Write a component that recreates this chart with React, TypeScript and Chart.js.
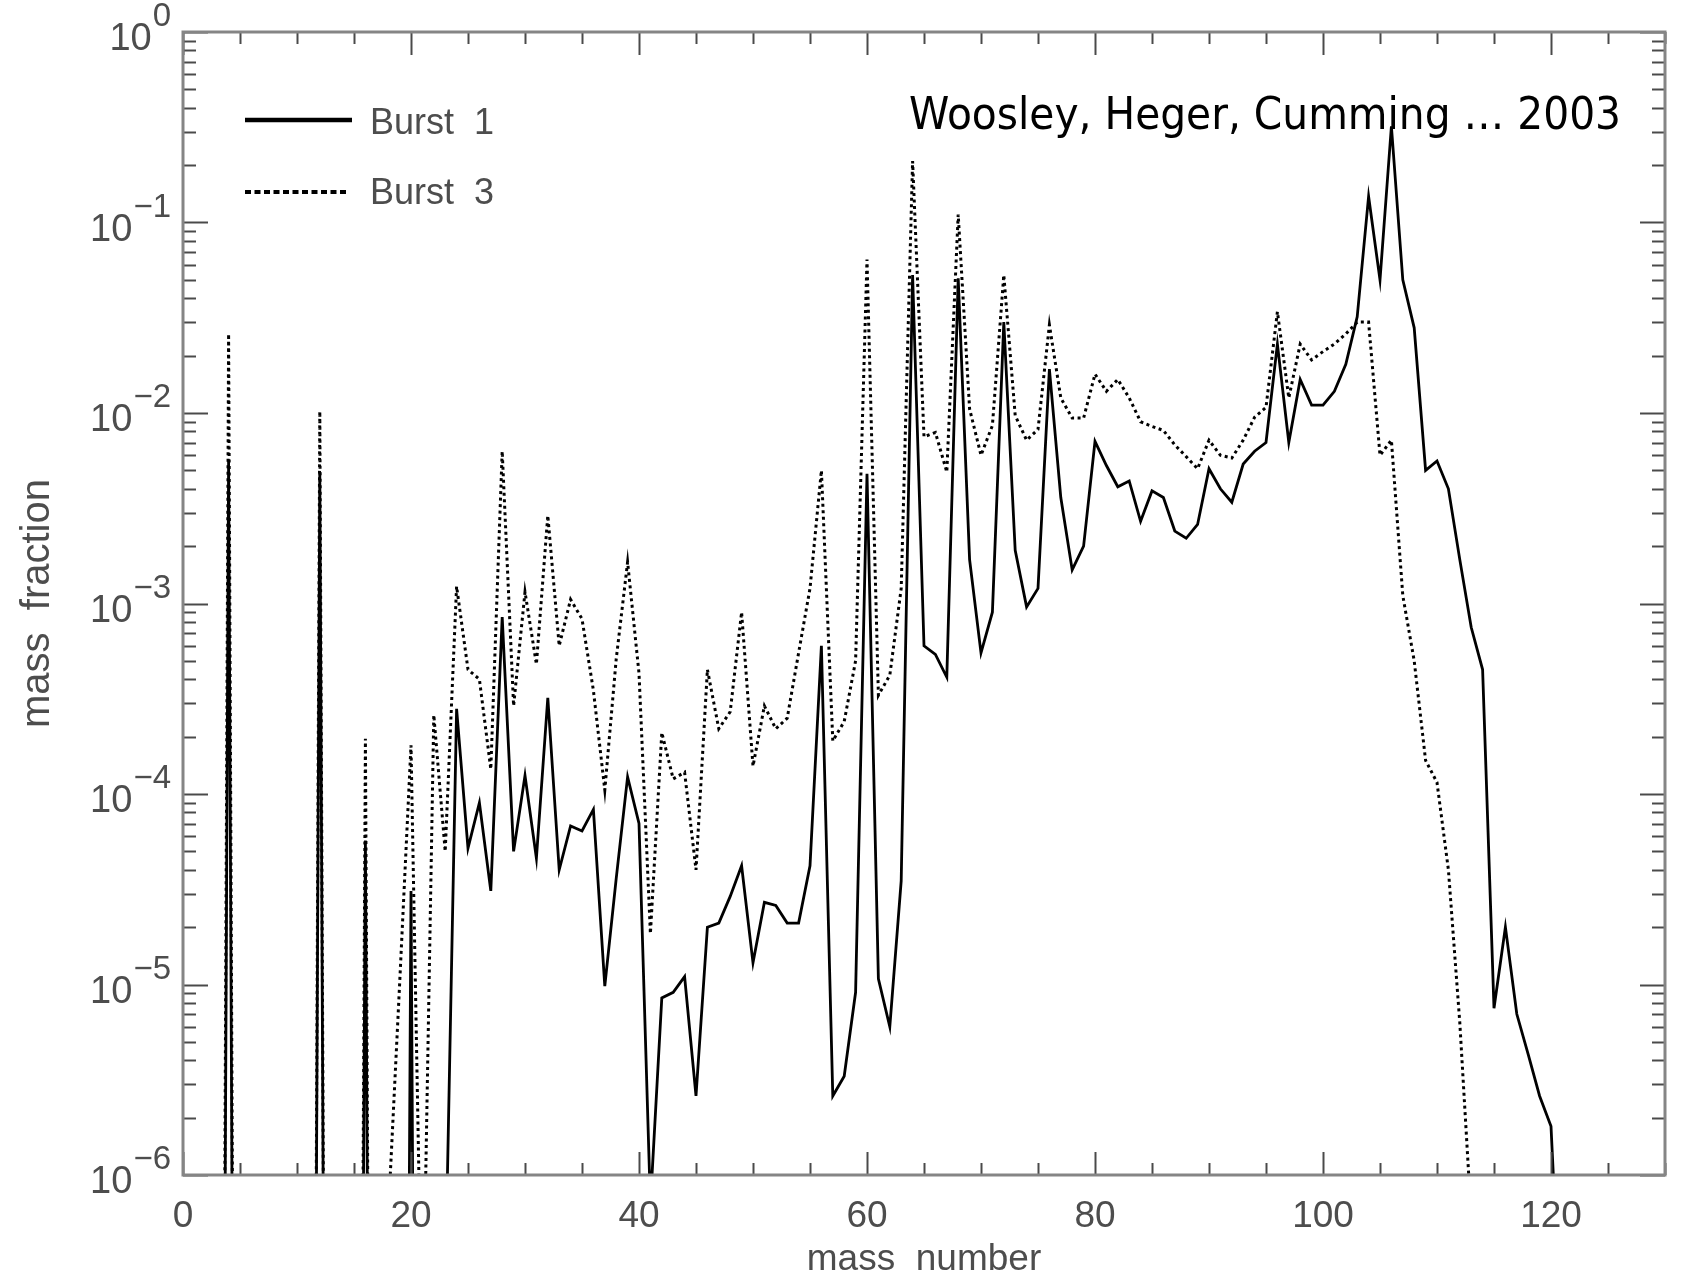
import { useEffect, useRef } from "react";
import { Chart, registerables } from "chart.js";

Chart.register(...registerables);

const W = 1681;
const H = 1277;

// value used for abundances below the plotted range (line leaves the frame)
const BELOW = 1e-15;

const massNumberFirst = 1;

const burst1 = [
  BELOW, BELOW, BELOW, 5.7e-3, BELOW, BELOW, BELOW, BELOW, BELOW, BELOW,
  BELOW, 4.9e-3, BELOW, BELOW, BELOW, 5.7e-5, BELOW, BELOW, BELOW, 3.1e-5,
  BELOW, BELOW, 2.5e-7, 2.8e-4, 5.2e-5, 9e-5, 3.1e-5, 8.5e-4, 5e-5, 1.25e-4,
  4.6e-5, 3.2e-4, 4e-5, 6.8e-5, 6.4e-5, 8.3e-5, 9.8e-6, 3.6e-5, 1.23e-4, 7e-5,
  7e-7, 8.5e-6, 9.1e-6, 1.1e-5, 2.6e-6, 2e-5, 2.1e-5, 2.9e-5, 4.2e-5, 1.3e-5,
  2.7e-5, 2.6e-5, 2.1e-5, 2.1e-5, 4.2e-5, 6e-4, 2.6e-6, 3.3e-6, 9.1e-6, 4.8e-3,
  1.07e-5, 6e-6, 3.5e-5, 5.3e-2, 6e-4, 5.4e-4, 4.1e-4, 5.1e-2, 1.7e-3, 5.5e-4,
  9e-4, 3e-2, 1.9e-3, 9.6e-4, 1.2e-3, 1.7e-2, 3.6e-3, 1.5e-3, 2e-3, 7.1e-3,
  5.3e-3, 4.1e-3, 4.4e-3, 2.7e-3, 3.9e-3, 3.6e-3, 2.4e-3, 2.2e-3, 2.6e-3, 5.1e-3,
  4e-3, 3.4e-3, 5.4e-3, 6.3e-3, 7e-3, 2.3e-2, 7e-3, 1.5e-2, 1.1e-2, 1.1e-2,
  1.3e-2, 1.8e-2, 3.2e-2, 1.37e-1, 5e-2, 3.2e-1, 5e-2, 2.8e-2, 5e-3, 5.6e-3,
  4e-3, 1.7e-3, 7.5e-4, 4.5e-4, 7.5e-6, 2e-5, 7e-6, 4.3e-6, 2.6e-6, 1.8e-6,
  1e-7, BELOW, BELOW, BELOW, BELOW,
];

const burst3 = [
  BELOW, BELOW, BELOW, 2.6e-2, BELOW, BELOW, BELOW, BELOW, BELOW, BELOW,
  BELOW, 1.02e-2, BELOW, BELOW, BELOW, 1.95e-4, BELOW, 6e-7, 1e-5, 1.8e-4,
  1e-7, 2.6e-4, 5e-5, 1.23e-3, 4.5e-4, 4e-4, 1.35e-4, 6.3e-3, 2.9e-4, 1.15e-3,
  4.8e-4, 2.9e-3, 6e-4, 1.05e-3, 8.3e-4, 3.5e-4, 1.05e-4, 5.1e-4, 1.65e-3, 4.3e-4,
  1.85e-5, 2.1e-4, 1.2e-4, 1.3e-4, 4e-5, 4.5e-4, 2.2e-4, 2.7e-4, 9e-4, 1.4e-4,
  2.9e-4, 2.2e-4, 2.5e-4, 5.5e-4, 1.2e-3, 5e-3, 1.9e-4, 2.4e-4, 5e-4, 6.4e-2,
  3.3e-4, 4.2e-4, 1.2e-3, 2.1e-1, 7.5e-3, 7.9e-3, 4.9e-3, 1.1e-1, 1.05e-2, 6e-3,
  8.6e-3, 5.3e-2, 9.7e-3, 7.2e-3, 8.2e-3, 2.9e-2, 1.2e-2, 9.4e-3, 9.4e-3, 1.6e-2,
  1.3e-2, 1.5e-2, 1.2e-2, 9e-3, 8.5e-3, 8.1e-3, 6.8e-3, 5.9e-3, 5.1e-3, 7.2e-3,
  6e-3, 5.8e-3, 7.2e-3, 9.5e-3, 1.07e-2, 3.4e-2, 1.2e-2, 2.3e-2, 1.9e-2, 2.1e-2,
  2.3e-2, 2.6e-2, 3e-2, 3e-2, 6e-3, 7.2e-3, 1.1e-3, 5e-4, 1.5e-4, 1.15e-4,
  4e-5, 6.3e-6, 6e-7, BELOW, BELOW, BELOW, BELOW, BELOW, BELOW, BELOW,
  BELOW, BELOW, BELOW, BELOW, BELOW,
];

const seriesNames = ["Burst  1", "Burst  3"];
const xTickValues = [0, 20, 40, 60, 80, 100, 120];
const yDecadeExponents = [0, -1, -2, -3, -4, -5, -6];
const xTitle = "mass  number";
const yTitle = "mass  fraction";
const note = "Woosley, Heger, Cumming \u2026 2003";

const LABEL_FONT = '"Liberation Sans", Arial, sans-serif';
const LABEL_COLOR = "#4d4d4d";

export default function App() {
  const ref = useRef<HTMLCanvasElement | null>(null);

  useEffect(() => {
    if (!ref.current) return;
    const toPoints = (arr: number[]) =>
      arr.map((v, i) => ({ x: massNumberFirst + i, y: v }));

    const decor = {
      id: "decor",
      afterDraw(chart: any) {
        const { ctx, chartArea: ca, scales } = chart;
        const xs = scales.x;
        const ys = scales.y;
        ctx.save();

        const seg = (x1: number, y1: number, x2: number, y2: number) => {
          ctx.beginPath();
          ctx.moveTo(x1, y1);
          ctx.lineTo(x2, y2);
          ctx.stroke();
        };

        // ticks (inward)
        ctx.strokeStyle = "#4a4a4a";
        ctx.lineWidth = 2;
        for (let v = 0; v <= 130; v += 5) {
          const px = Math.round(xs.getPixelForValue(v)) + 0.5;
          const len = v % 20 === 0 ? 23 : 12;
          seg(px, ca.bottom, px, ca.bottom - len);
          seg(px, ca.top, px, ca.top + len);
        }
        for (let e = -6; e <= 0; e++) {
          for (let m = 1; m <= 9; m++) {
            const v = m * Math.pow(10, e);
            if (v > 1.0000001) break;
            const py = Math.round(ys.getPixelForValue(v)) + 0.5;
            const len = m === 1 ? 25 : 13;
            seg(ca.left, py, ca.left + len, py);
            seg(ca.right, py, ca.right - len, py);
          }
        }

        // frame
        ctx.strokeStyle = "#858585";
        ctx.lineWidth = 3;
        ctx.strokeRect(ca.left, ca.top, ca.right - ca.left, ca.bottom - ca.top);

        // x tick labels
        ctx.fillStyle = LABEL_COLOR;
        ctx.font = `37px ${LABEL_FONT}`;
        ctx.textAlign = "center";
        ctx.textBaseline = "middle";
        xTickValues.forEach((v) => {
          ctx.fillText(String(v), xs.getPixelForValue(v), ca.bottom + 42);
        });

        // y tick labels 10^e
        yDecadeExponents.forEach((e) => {
          const py = ys.getPixelForValue(Math.pow(10, e));
          const expText = e === 0 ? "0" : "\u2212" + String(-e);
          ctx.font = `33px ${LABEL_FONT}`;
          const ew = ctx.measureText(expText).width;
          const right = ca.left - 12;
          ctx.textAlign = "left";
          ctx.textBaseline = "middle";
          ctx.fillText(expText, right - ew, py - 15);
          ctx.font = `38px ${LABEL_FONT}`;
          ctx.textAlign = "right";
          ctx.fillText("10", right - ew - 1, py + 8);
        });

        // axis titles
        ctx.textAlign = "center";
        ctx.textBaseline = "middle";
        ctx.font = `37px ${LABEL_FONT}`;
        ctx.fillText(xTitle, (ca.left + ca.right) / 2, 1260);
        ctx.save();
        ctx.translate(38, (ca.top + ca.bottom) / 2);
        ctx.rotate(-Math.PI / 2);
        ctx.font = `40px ${LABEL_FONT}`;
        ctx.fillText(yTitle, 0, 0);
        ctx.restore();

        // legend
        ctx.strokeStyle = "#000";
        ctx.lineWidth = 4.5;
        ctx.setLineDash([]);
        seg(245, 120, 352, 120);
        ctx.lineWidth = 4;
        ctx.setLineDash([6, 3.5]);
        seg(245, 192, 347, 192);
        ctx.setLineDash([]);
        ctx.font = `36px ${LABEL_FONT}`;
        ctx.textAlign = "left";
        ctx.textBaseline = "middle";
        ctx.fillStyle = LABEL_COLOR;
        ctx.fillText(seriesNames[0], 370, 124);
        ctx.fillText(seriesNames[1], 370, 194);

        // annotation
        ctx.fillStyle = "#000";
        ctx.font = '45px "DejaVu Sans", sans-serif';
        ctx.textBaseline = "alphabetic";
        const tw = ctx.measureText(note).width;
        const target = 712;
        ctx.save();
        ctx.translate(909, 129);
        ctx.scale(target / tw, 1);
        ctx.fillText(note, 0, 0);
        ctx.restore();

        ctx.restore();
      },
    };

    const chart = new Chart(ref.current, {
      type: "line",
      data: {
        datasets: [
          {
            label: seriesNames[0],
            data: toPoints(burst1),
            borderColor: "#000",
            borderWidth: 2.8,
            pointRadius: 0,
            tension: 0,
            fill: false,
          },
          {
            label: seriesNames[1],
            data: toPoints(burst3),
            borderColor: "#000",
            borderWidth: 3,
            borderDash: [3, 3.5],
            pointRadius: 0,
            tension: 0,
            fill: false,
          },
        ],
      } as any,
      options: {
        responsive: false,
        animation: false,
        events: [],
        layout: { padding: { left: 183, right: 16, top: 32, bottom: 102 } },
        scales: {
          x: { type: "linear", min: 0, max: 130, display: false },
          y: { type: "logarithmic", min: 1e-6, max: 1, display: false },
        },
        plugins: {
          legend: { display: false },
          tooltip: { enabled: false },
        },
      } as any,
      plugins: [decor],
    });
    return () => chart.destroy();
  }, []);

  return (
    <div
      style={{
        position: "absolute",
        left: 0,
        top: 0,
        width: W,
        height: H,
        background: "#fff",
      }}
    >
      <canvas
        ref={ref}
        width={W}
        height={H}
        style={{ width: W, height: H, display: "block" }}
      />
    </div>
  );
}
